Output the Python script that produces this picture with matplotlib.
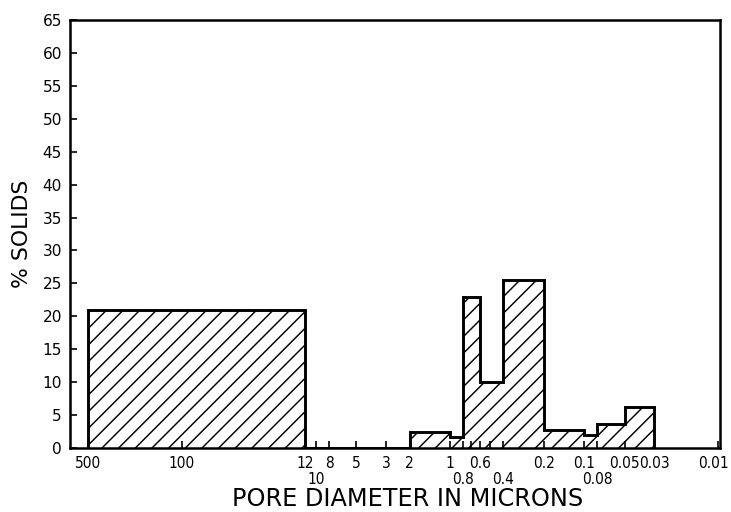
import numpy as np
import matplotlib.pyplot as plt
from matplotlib.ticker import FixedLocator, FixedFormatter
from matplotlib.transforms import ScaledTranslation

# pore size class edges (microns) and % solids in each class, large to small
edges = [500, 12, 2, 1, 0.8, 0.6, 0.4, 0.2, 0.1, 0.08, 0.05, 0.03]
solids = [21, 0, 2.4, 1.7, 23, 10, 25.5, 2.8, 1.9, 3.7, 6.3]

# first row of tick labels
top_vals = [500, 100, 12, 8, 5, 3, 2, 1, 0.6, 0.2, 0.1, 0.05, 0.03, 0.01]
top_text = ['500', '100', '12', '8', '5', '3', '2', '1', '0.6', '0.2', '0.1', '0.05', '0.03', '0.01']
# second (lower) row, plus two unlabeled ticks
low_vals = [10, 0.8, 0.7, 0.5, 0.4, 0.08]
low_text = ['10', '0.8', '', '', '0.4', '0.08']

plt.rcParams['hatch.linewidth'] = 0.7
plt.rcParams['font.family'] = 'DejaVu Sans'

fig = plt.figure(figsize=(731 / 150, 512 / 150), dpi=150)
ax = fig.add_axes([70 / 731, 1 - 448 / 512, 650 / 731, 428 / 512])

ax.stairs(solids[::-1], edges[::-1], baseline=0, fill=True, facecolor='white',
          edgecolor='black', hatch='///', linewidth=1.4)

ax.set_xscale('log')
ax.set_xlim(685, 0.0097)
ax.set_ylim(0, 65)

ax.xaxis.set_major_locator(FixedLocator(top_vals))
ax.xaxis.set_major_formatter(FixedFormatter(top_text))
ax.xaxis.set_minor_locator(FixedLocator(low_vals))
ax.xaxis.set_minor_formatter(FixedFormatter(low_text))
ax.set_yticks(np.arange(0, 66, 5))

ax.tick_params(axis='both', which='both', direction='in', length=3.4, width=0.8,
               labelsize=7.4, pad=3.8)
ax.tick_params(axis='x', which='minor', pad=11.5)
ax.tick_params(axis='x', which='both', top=False)
ax.tick_params(axis='y', right=False)

for sp in ax.spines.values():
    sp.set_linewidth(1.2)

ax.set_xlabel('PORE DIAMETER IN MICRONS', fontsize=11.5)
ax.xaxis.set_label_coords(0.52, -0.091)
ax.set_ylabel('% SOLIDS', fontsize=10.5)
ax.yaxis.set_label_coords(-0.058, 0.5)

xlabels = ax.get_xticklabels(which='both')
for lab in xlabels:
    lab.set_fontstretch('condensed')
# keep the last label inside the figure edge
last = ax.get_xticklabels()[-1]
last.set_transform(last.get_transform() + ScaledTranslation(-5 / 150, 0, fig.dpi_scale_trans))

fig.savefig('out.png', dpi=150)
